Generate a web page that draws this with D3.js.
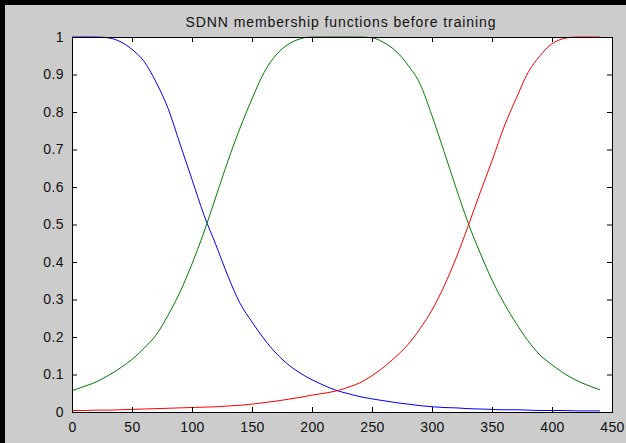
<!DOCTYPE html>
<html>
<head>
<meta charset="utf-8">
<script src="https://cdn.jsdelivr.net/npm/d3@7"></script>
<style>
  html, body { margin: 0; padding: 0; background: #cccccc; }
  svg { display: block; }
  text { font-family: "Liberation Sans", Arial, sans-serif; fill: #111; }
</style>
</head>
<body>
<svg id="chart" width="626" height="443"></svg>
<script>
// x positions where the curves were read (every 10 units)
const xs = d3.range(0, 441, 10);

const blueVals = [1, 1, 1, 0.998, 0.988, 0.967, 0.935, 0.88, 0.81, 0.715,
    0.62, 0.525, 0.445, 0.362, 0.29, 0.24, 0.195, 0.157, 0.127, 0.104,
    0.086, 0.071, 0.058, 0.049, 0.041, 0.035, 0.03, 0.025, 0.021, 0.017,
    0.014, 0.012, 0.011, 0.009, 0.008, 0.007, 0.006, 0.006, 0.005, 0.004,
    0.004, 0.004, 0.003, 0.003, 0.003];

const greenVals = [0.057, 0.068, 0.08, 0.097, 0.117, 0.14, 0.17, 0.205, 0.258, 0.32,
    0.395, 0.48, 0.575, 0.67, 0.757, 0.835, 0.905, 0.952, 0.98, 0.995,
    1, 1, 1, 1, 1, 0.998, 0.985, 0.962, 0.925, 0.875,
    0.79, 0.695, 0.598, 0.505, 0.425, 0.352, 0.29, 0.237, 0.19, 0.152,
    0.126, 0.103, 0.085, 0.071, 0.059];

const redVals = [0.004, 0.004, 0.005, 0.005, 0.006, 0.007, 0.008, 0.009, 0.01, 0.011,
    0.012, 0.013, 0.014, 0.016, 0.018, 0.021, 0.025, 0.029, 0.034, 0.039,
    0.045, 0.05, 0.056, 0.066, 0.078, 0.097, 0.12, 0.148, 0.18, 0.222,
    0.272, 0.335, 0.41, 0.495, 0.584, 0.67, 0.76, 0.835, 0.905, 0.95,
    0.982, 0.996, 1, 1, 1];

const xTicks = d3.range(0, 451, 50);
const yTicks = d3.range(0, 11).map(d => d / 10);
const titleText = 'SDNN membership functions before training';

const series = [
    { color: '#0000ff', values: blueVals },
    { color: '#008000', values: greenVals },
    { color: '#ff0000', values: redVals }
];

const svg = d3.select('#chart');
const plotL = 72, plotR = 612, plotT = 37, plotB = 412;

// outer frame (black edge on top and left)
svg.append('rect').attr('x', 0).attr('y', 0).attr('width', 626).attr('height', 443).attr('fill', '#cccccc');
svg.append('rect').attr('x', 0).attr('y', 0).attr('width', 626).attr('height', 5).attr('fill', '#000');
svg.append('rect').attr('x', 0).attr('y', 0).attr('width', 5).attr('height', 443).attr('fill', '#000');

const x = d3.scaleLinear().domain([0, 450]).range([plotL, plotR]);
const y = d3.scaleLinear().domain([0, 1]).range([plotB, plotT]);

svg.append('rect')
    .attr('x', plotL).attr('y', plotT)
    .attr('width', plotR - plotL).attr('height', plotB - plotT)
    .attr('fill', '#ffffff');

const line = d3.line()
    .x((d, i) => x(xs[i]))
    .y(d => y(d))
    .curve(d3.curveMonotoneX);

series.forEach(s => {
    svg.append('path')
        .datum(s.values)
        .attr('d', line)
        .attr('fill', 'none')
        .attr('stroke', s.color)
        .attr('stroke-width', 1);
});

// axes, ticks pointing inward on all four sides
const tickLen = 5;
const axisStyle = g => {
    g.select('.domain').remove();
    g.selectAll('.tick line').attr('stroke', '#000');
    g.selectAll('.tick text')
        .style('font-size', '14px')
        .style('letter-spacing', '0.4px')
        .attr('fill', '#111');
};

svg.append('g')
    .attr('transform', `translate(0,${plotB})`)
    .call(d3.axisBottom(x).tickValues(xTicks).tickSizeInner(-tickLen).tickSizeOuter(0).tickPadding(10))
    .call(axisStyle);

svg.append('g')
    .attr('transform', `translate(0,${plotT})`)
    .call(d3.axisTop(x).tickValues(xTicks).tickSizeInner(-tickLen).tickSizeOuter(0).tickFormat(''))
    .call(axisStyle);

svg.append('g')
    .attr('transform', `translate(${plotL},0)`)
    .call(d3.axisLeft(y).tickValues(yTicks).tickSizeInner(-tickLen).tickSizeOuter(0).tickPadding(8).tickFormat(d3.format('')))
    .call(axisStyle);

svg.append('g')
    .attr('transform', `translate(${plotR},0)`)
    .call(d3.axisRight(y).tickValues(yTicks).tickSizeInner(-tickLen).tickSizeOuter(0).tickFormat(''))
    .call(axisStyle);

svg.append('rect')
    .attr('x', plotL + 0.5).attr('y', plotT + 0.5)
    .attr('width', plotR - plotL).attr('height', plotB - plotT)
    .attr('fill', 'none')
    .attr('stroke', '#000')
    .attr('stroke-width', 1);

svg.append('text')
    .attr('x', (plotL + plotR) / 2 - 1)
    .attr('y', 27)
    .attr('text-anchor', 'middle')
    .style('font-size', '14px')
    .style('letter-spacing', '0.9px')
    .text(titleText);
</script>
</body>
</html>
